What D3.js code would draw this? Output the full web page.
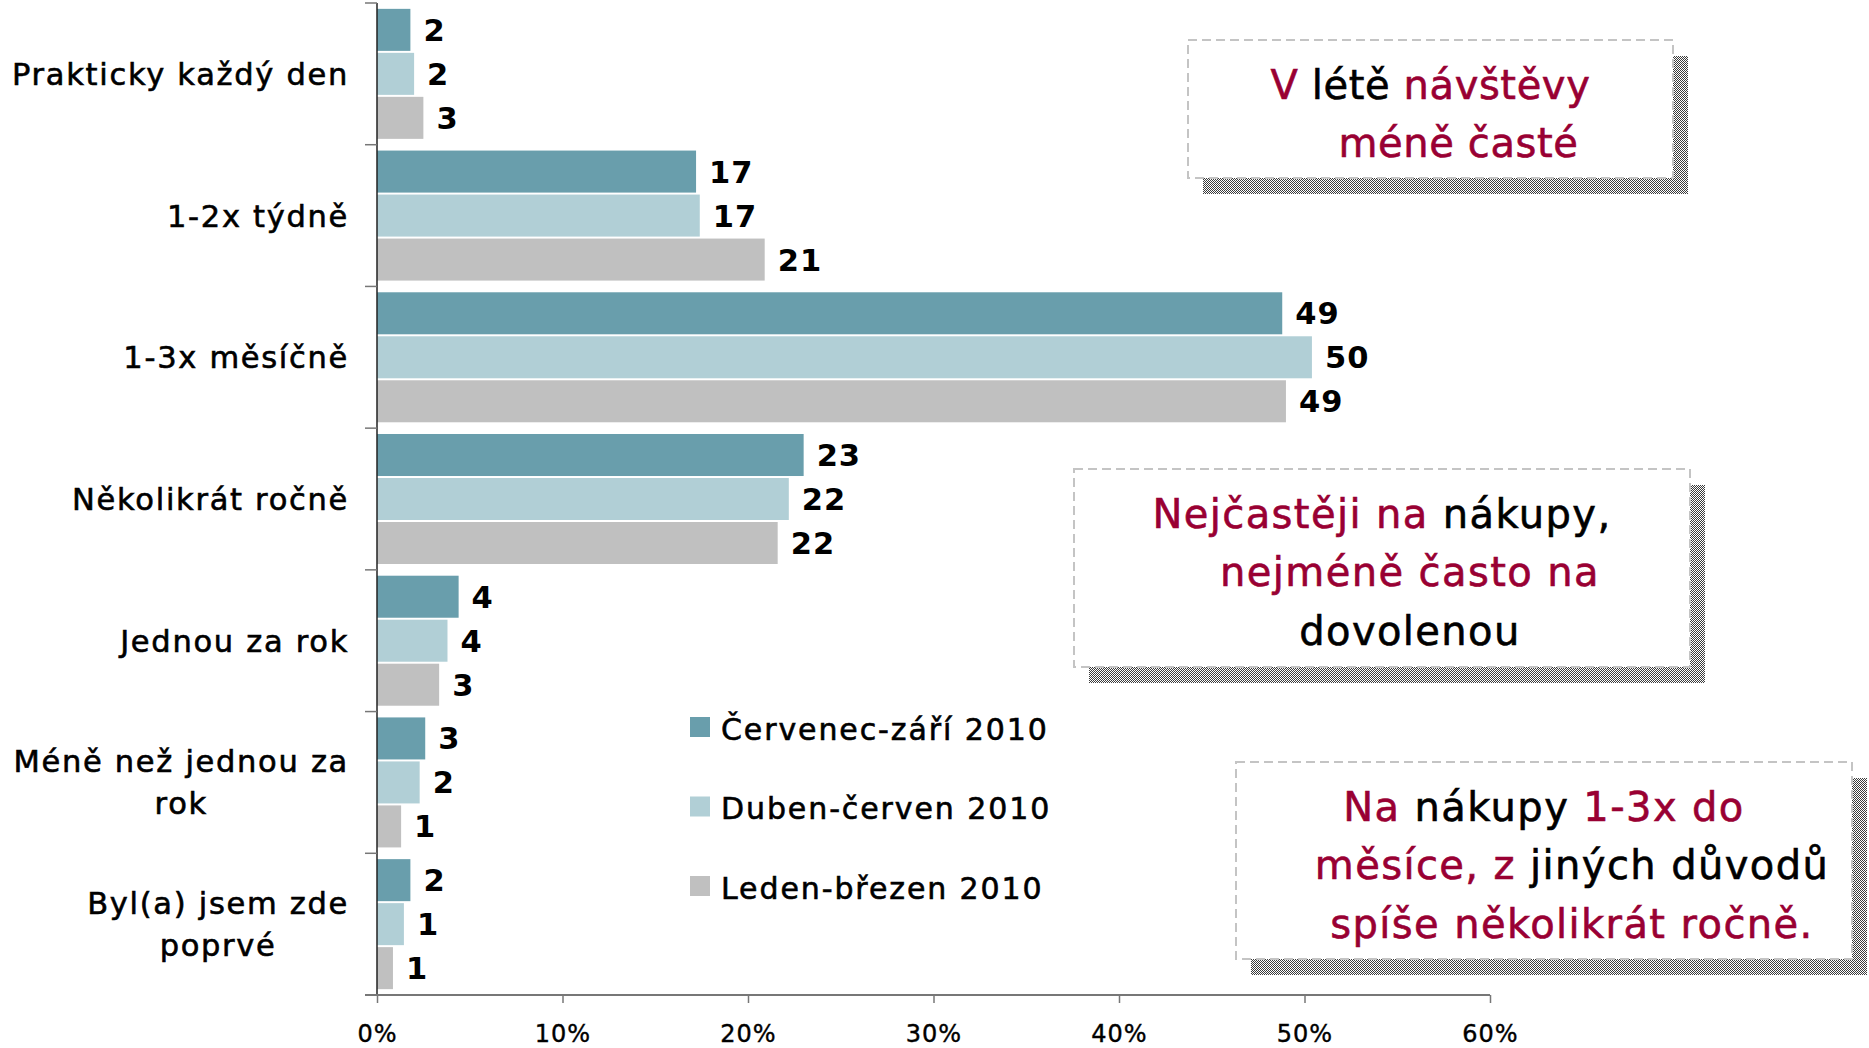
<!DOCTYPE html>
<html>
<head>
<meta charset="utf-8">
<script src="https://cdn.jsdelivr.net/npm/d3@7"></script>
<style>
  html, body { margin: 0; padding: 0; background: #fff; }
  svg { display: block; font-family: "DejaVu Sans", Verdana, sans-serif; }
</style>
</head>
<body>
<div id="chart"></div>
<script>
const categories = [
  "Prakticky každý den",
  "1-2x týdně",
  "1-3x měsíčně",
  "Několikrát ročně",
  "Jednou za rok",
  "Méně než jednou za|rok",
  "Byl(a) jsem zde|poprvé"
];
const series = ["Červenec-září 2010", "Duben-červen 2010", "Leden-březen 2010"];

// bar lengths in %
const cervenecZari = [1.8, 17.2, 48.8, 23.0, 4.4, 2.6, 1.8];
const dubenCerven = [2.0, 17.4, 50.4, 22.2, 3.8, 2.3, 1.45];
const ledenBrezen = [2.5, 20.9, 49.0, 21.6, 3.35, 1.3, 0.86];

// printed labels
const cervenecZariLabels = [2, 17, 49, 23, 4, 3, 2];
const dubenCervenLabels = [2, 17, 50, 22, 4, 2, 1];
const ledenBrezenLabels = [3, 21, 49, 22, 3, 1, 1];

const xTicks = [0, 10, 20, 30, 40, 50, 60];

// callout boxes: lines of [text, highlighted?]
const noteSummer = [
  [["V ", true], ["létě ", false], ["návštěvy", true]],
  [["méně časté", true]]
];
const noteShopping = [
  [["Nejčastěji na ", true], ["nákupy,", false]],
  [["nejméně často na", true]],
  [["dovolenou", false]]
];
const noteMonthly = [
  [["Na ", true], ["nákupy ", false], ["1-3x do", true]],
  [["měsíce, z ", true], ["jiných důvodů", false]],
  [["spíše několikrát ročně.", true]]
];

const seriesValues = [cervenecZari, dubenCerven, ledenBrezen];
const seriesLabels = [cervenecZariLabels, dubenCervenLabels, ledenBrezenLabels];
const colors = ["#699EAC", "#B1CFD6", "#C0C0C0"];
const red = "#990033";

const W = 1869, H = 1048;
const margin = { top: 3, right: 379, bottom: 53, left: 377 },
  width = W - margin.left - margin.right,
  height = H - margin.top - margin.bottom;

const svg = d3.select("#chart").append("svg")
  .attr("width", W)
  .attr("height", H);

// dithered shadow pattern
const pat = svg.append("defs").append("pattern")
  .attr("id", "dither")
  .attr("width", 2).attr("height", 2)
  .attr("patternUnits", "userSpaceOnUse");
pat.append("rect").attr("width", 2).attr("height", 2).attr("fill", "#fff");
pat.append("rect").attr("width", 1).attr("height", 1).attr("fill", "#3c3c3c");
pat.append("rect").attr("x", 1).attr("y", 1).attr("width", 1).attr("height", 1).attr("fill", "#3c3c3c");

const g = svg.append("g").attr("transform", `translate(${margin.left},${margin.top})`);

const x = d3.scaleLinear().domain([0, 60]).range([0, width]);
const y0 = d3.scaleBand().domain(categories).range([0, height]).padding(0);
const y1 = d3.scaleBand().domain(series).range([0, y0.bandwidth()])
  .paddingInner(0.045).paddingOuter(0.133);

const rows = categories.map((c, i) => ({
  cat: c,
  bars: series.map((s, j) => ({ s, j, v: seriesValues[j][i], label: seriesLabels[j][i] }))
}));

// bars
const groups = g.selectAll("g.cat")
  .data(rows)
  .join("g")
  .attr("class", "cat")
  .attr("transform", d => `translate(0,${y0(d.cat)})`);

groups.selectAll("rect")
  .data(d => d.bars)
  .join("rect")
  .attr("x", 0)
  .attr("y", d => y1(d.s))
  .attr("width", d => x(d.v))
  .attr("height", y1.bandwidth())
  .attr("fill", d => colors[d.j]);

groups.selectAll("text.val")
  .data(d => d.bars)
  .join("text")
  .attr("class", "val")
  .attr("x", d => x(d.v) + 13)
  .attr("y", d => y1(d.s) + y1.bandwidth() / 2 + 11)
  .attr("font-size", 30.5)
  .attr("font-weight", "bold")
  .style("letter-spacing", "1px")
  .attr("fill", "#000")
  .text(d => d.label);

// category labels
groups.each(function (d) {
  const lines = d.cat.split("|");
  const n = lines.length;
  const tg = d3.select(this).append("g");
  const texts = tg.selectAll("text")
    .data(lines)
    .join("text")
    .attr("text-anchor", "middle")
    .attr("x", 0)
    .attr("y", (l, i) => y0.bandwidth() / 2 + 11 + (i - (n - 1) / 2) * 42)
    .attr("font-size", 30.5)
    .style("letter-spacing", "1.7px")
    .attr("fill", "#000")
    .attr("stroke", "#000")
    .attr("stroke-width", 0.6)
    .text(l => l);
  let maxW = 0;
  texts.each(function () { maxW = Math.max(maxW, this.getComputedTextLength()); });
  tg.attr("transform", `translate(${-28 - maxW / 2},0)`);
});

// left axis with boundary ticks
g.append("line")
  .attr("x1", 0).attr("x2", 0)
  .attr("y1", 0).attr("y2", height)
  .attr("stroke", "#222").attr("stroke-width", 1.5);
g.selectAll("line.bound")
  .data(d3.range(categories.length + 1))
  .join("line")
  .attr("class", "bound")
  .attr("x1", -12).attr("x2", 0)
  .attr("y1", i => i * y0.step()).attr("y2", i => i * y0.step())
  .attr("stroke", "#777").attr("stroke-width", 1.5);

// bottom axis
const xAxis = g.append("g")
  .attr("transform", `translate(0,${height})`)
  .call(d3.axisBottom(x).tickValues(xTicks).tickFormat(d => d + "%").tickSize(8).tickSizeOuter(0));
xAxis.select(".domain").attr("d", `M-12,0H${width}`).attr("stroke", "#777").attr("stroke-width", 2);
xAxis.selectAll(".tick line").attr("stroke", "#777").attr("stroke-width", 1.5);
xAxis.selectAll(".tick text")
  .attr("y", 47).attr("dy", null)
  .attr("font-size", 24)
  .attr("font-family", "DejaVu Sans, Verdana, sans-serif")
  .style("letter-spacing", "1px")
  .attr("fill", "#000")
  .attr("stroke", "#000")
  .attr("stroke-width", 0.4);

// legend
const legend = svg.append("g").attr("transform", "translate(690,717)");
const li = legend.selectAll("g")
  .data(series)
  .join("g")
  .attr("transform", (d, i) => `translate(0,${i * 79.5})`);
li.append("rect").attr("width", 20).attr("height", 20).attr("fill", (d, i) => colors[i]);
li.append("text")
  .attr("x", 31).attr("y", 22.5)
  .attr("font-size", 30)
  .style("letter-spacing", "1.9px")
  .attr("fill", "#000")
  .attr("stroke", "#000")
  .attr("stroke-width", 0.6)
  .text(d => d);

// callout boxes
function drawNote(lines, bx, by, bw, bh, spacing) {
  const ng = svg.append("g").attr("transform", `translate(${bx},${by})`);
  ng.append("rect")
    .attr("x", 15).attr("y", 16)
    .attr("width", bw).attr("height", bh)
    .attr("fill", "url(#dither)");
  ng.append("rect")
    .attr("width", bw).attr("height", bh)
    .attr("fill", "#fff")
    .attr("stroke", "#c4c4c4")
    .attr("stroke-width", 2)
    .attr("stroke-dasharray", "9,5");
  ng.selectAll("text")
    .data(lines)
    .join("text")
    .attr("text-anchor", "middle")
    .attr("x", (d, i) => bw / 2 + (i === 0 ? 0 : 28))
    .attr("y", (d, i) => 58.5 + i * 58.8)
    .attr("font-size", 40)
    .style("letter-spacing", spacing + "px")
    .selectAll("tspan")
    .data(d => d)
    .join("tspan")
    .attr("fill", d => d[1] ? red : "#000")
    .attr("stroke", d => d[1] ? red : "#000")
    .attr("stroke-width", 0.6)
    .text(d => d[0]);
}

drawNote(noteSummer, 1188, 40, 485, 138, 0.6);
drawNote(noteShopping, 1074, 469, 616, 198, 1.4);
drawNote(noteMonthly, 1236, 762, 616, 197, 1.4);
</script>
</body>
</html>
